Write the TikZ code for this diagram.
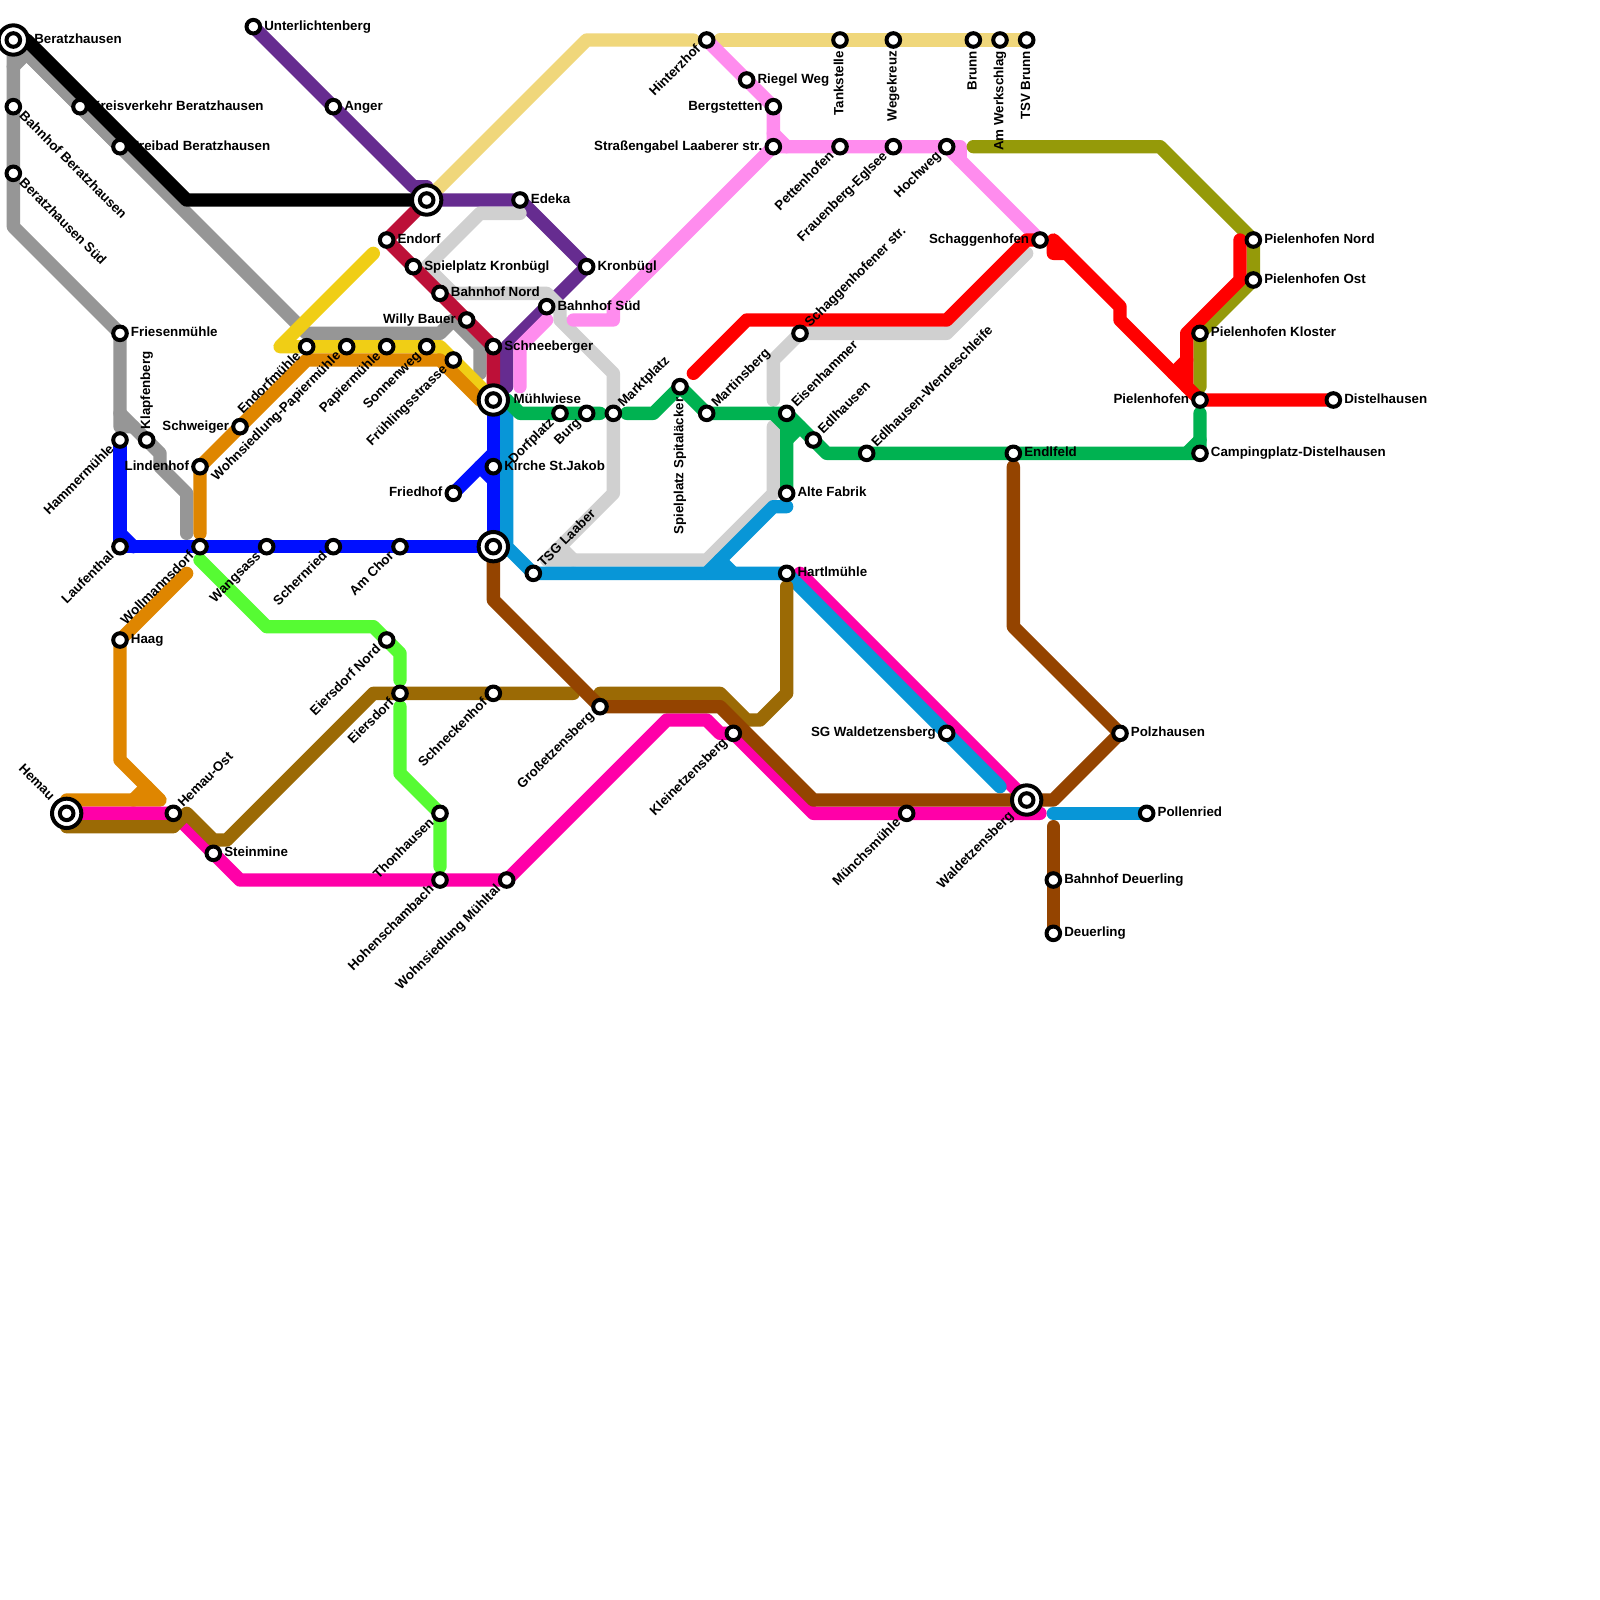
\documentclass[tikz,border=0pt]{standalone}
\usepackage{fontspec}
\setmainfont{Liberation Sans}
\definecolor{cgray}{HTML}{969696}
\definecolor{cpurple}{HTML}{662C90}
\definecolor{ccrim}{HTML}{BD1038}
\definecolor{cgold}{HTML}{F0CE15}
\definecolor{corange}{HTML}{DF8600}
\definecolor{cpale}{HTML}{F0D77B}
\definecolor{clight}{HTML}{D0D0D0}
\definecolor{cpink}{HTML}{FF8CEE}
\definecolor{cmag}{HTML}{FF00A8}
\definecolor{csky}{HTML}{0896D7}
\definecolor{cblue}{HTML}{000FFF}
\definecolor{cgreen}{HTML}{00B251}
\definecolor{clime}{HTML}{56FB33}
\definecolor{ctan}{HTML}{9B6A05}
\definecolor{cbrown}{HTML}{944400}
\definecolor{colive}{HTML}{959A09}
\definecolor{cred}{HTML}{FF0000}
\tikzset{
  metro/.style={line width=10pt,line cap=round,line join=round},
  stop/.style={circle,draw=black,fill=white,line width=3pt,minimum size=10.2pt,inner sep=0pt,outer sep=0pt},
  hubring/.style={circle,draw=black,fill=white,line width=3pt,minimum size=22pt,inner sep=0pt,outer sep=0pt},
  lbl/.style={inner sep=0pt,text height=7.5pt,text depth=2.5pt,font=\fontsize{10}{12}\selectfont\bfseries}
}
\newcommand{\stn}[3]{\coordinate (#1) at (#2,#3);}
\newcommand{\dotat}[1]{\node[stop] (#1-d) at (#1) {};}
\newcommand{\hubat}[1]{\node[hubring] (#1-h) at (#1) {}; \node[stop] (#1-d) at (#1) {};}
\newcommand{\lsta}[4]{\path (#1) ++(#2:#3pt) node[lbl,rotate=#2,anchor=west] (#1-l) {#4};}
\newcommand{\lend}[4]{\path (#1) ++(#2:-#3pt) node[lbl,rotate=#2,anchor=east] (#1-l) {#4};}
\begin{document}
\begin{tikzpicture}[x=10pt,y=-10pt]
\useasboundingbox (0,0) rectangle (120,120);
\fill[white] (0,0) rectangle (120,120);
\stn{bera}{1}{3}\stn{bbera}{1}{8}\stn{bsued}{1}{13}\stn{krei}{6}{8}\stn{frei}{9}{11}
\stn{unte}{19}{2}\stn{ange}{25}{8}\stn{fries}{9}{25}\stn{klap}{11}{33}\stn{hamm}{9}{33}
\stn{lauf}{9}{41}\stn{lind}{15}{35}\stn{woll}{15}{41}\stn{wang}{20}{41}\stn{sche}{25}{41}
\stn{amch}{30}{41}\stn{hubs}{37}{41}\stn{tsg}{40}{43}\stn{haag}{9}{48}\stn{hema}{5}{61}
\stn{hemo}{13}{61}\stn{stei}{16}{64}\stn{schw}{18}{32}\stn{endm}{23}{26}\stn{wopa}{26}{26}
\stn{papi}{29}{26}\stn{sonn}{32}{26}\stn{frue}{34}{27}\stn{mueh}{37}{30}\stn{schn}{37}{26}
\stn{will}{35}{24}\stn{bnor}{33}{22}\stn{spie}{31}{20}\stn{endo}{29}{18}\stn{hubn}{32}{15}
\stn{edek}{39}{15}\stn{kron}{44}{20}\stn{bsud}{41}{23}\stn{kirc}{37}{35}\stn{frie}{34}{37}
\stn{dorf}{42}{31}\stn{burg}{44}{31}\stn{mark}{46}{31}\stn{spit}{51}{29}\stn{mart}{53}{31}
\stn{eise}{59}{31}\stn{edlh}{61}{33}\stn{edlw}{65}{34}\stn{endl}{76}{34}\stn{camp}{90}{34}
\stn{piel}{90}{30}\stn{dist}{100}{30}\stn{pklo}{90}{25}\stn{post}{94}{21}\stn{pnor}{94}{18}
\stn{schg}{78}{18}\stn{schs}{60}{25}\stn{alte}{59}{37}\stn{hart}{59}{43}\stn{hint}{53}{3}
\stn{rieg}{56}{6}\stn{berg}{58}{8}\stn{stra}{58}{11}\stn{tank}{63}{3}\stn{pett}{63}{11}
\stn{wege}{67}{3}\stn{frau}{67}{11}\stn{hoch}{71}{11}\stn{brun}{73}{3}\stn{werk}{75}{3}
\stn{tsvb}{77}{3}\stn{eino}{29}{48}\stn{eier}{30}{52}\stn{schk}{37}{52}\stn{gros}{45}{53}
\stn{klei}{55}{55}\stn{sgwa}{71}{55}\stn{polz}{84}{55}\stn{wald}{77}{60}\stn{muen}{68}{61}
\stn{poll}{86}{61}\stn{bdeu}{79}{66}\stn{deue}{79}{70}\stn{thon}{33}{61}\stn{hohe}{33}{66}
\stn{womu}{38}{66}
% pale yellow
\draw[metro,cpale] (hubn) -- (44,3) -- (52,3);
\draw[metro,cpale] (54,3) -- (tsvb);
% grey
\draw[metro,cgray] (bera) -- (bsued) -- (1,17) -- (fries) -- (9,32) -- (10,32);
\draw[metro,cgray] (9,31) -- (12,34) -- (12,35) -- (14,37) -- (14,40);
\draw[metro,cgray] (1,5) -- (2,4) -- (23,25) -- (33,25) -- (34,24) -- (36,26) -- (36,28);
\draw[metro,cgray] (bera) -- (krei) -- (frei);
% purple
\draw[metro,cpurple] (unte) -- (ange) -- (31,14) -- (32,14) -- (hubn) -- (edek) -- (kron) -- (bsud) -- (38,26) -- (38,29);
% light grey
\draw[metro,clight] (39,16) -- (36,16) -- (32,20) -- (34,22) -- (41,22) -- (42,23) -- (42,24) -- (46,28) -- (46,37) -- (41,42) -- (53,42) -- (58,37) -- (58,32);
\draw[metro,clight] (42,41) -- (43,42);
\draw[metro,clight] (58,30) -- (58,27) -- (schs) -- (71,25) -- (77,19);
% pink
\draw[metro,cpink] (hint) -- (rieg) -- (berg) -- (stra) -- (hoch) -- (schg);
\draw[metro,cpink] (58,10) -- (59,11);
\draw[metro,cpink] (hoch) -- (72,11) -- (72,12);
\draw[metro,cpink] (stra) -- (46,23) -- (46,24) -- (43,24);
\draw[metro,cpink] (39,29) -- (39,26) -- (41,24);
% crimson
\draw[metro,ccrim] (hubn) -- (endo) -- (spie) -- (bnor) -- (will) -- (schn) -- (mueh);
% gold
\draw[metro,cgold] (28,19) -- (21,26) -- (endm) -- (sonn) -- (33,26) -- (mueh);
% orange
\draw[metro,corange] (15,40) -- (lind) -- (23,27) -- (33,27) -- (36,30) -- (mueh);
\draw[metro,corange] (hema) -- (5,60) -- (12,60) -- (9,57) -- (haag) -- (14,43);
\draw[metro,corange] (11,59) -- (10,60);
% black
\draw[metro,black] (bera) -- (2,3) -- (14,15) -- (hubn);
% magenta
\draw[metro,cmag] (hema) -- (hemo) -- (18,66) -- (womu) -- (50,54) -- (53,54) -- (54,55) -- (klei) -- (61,61) -- (muen) -- (78,61);
\draw[metro,cmag] (60,43) -- (wald);
% sky
\draw[metro,csky] (38,30) -- (38,41) -- (tsg) -- (hart) -- (75,59);
\draw[metro,csky] (59,38) -- (58,38) -- (53,43);
\draw[metro,csky] (54,42) -- (55,43);
\draw[metro,csky] (79,61) -- (poll);
% blue
\draw[metro,cblue] (hamm) -- (lauf) -- (hubs);
\draw[metro,cblue] (9,40) -- (10,41);
\draw[metro,cblue] (mueh) -- (hubs);
\draw[metro,cblue] (frie) -- (37,34);
\draw[metro,cblue] (36,35) -- (37,36);
% green
\draw[metro,cgreen] (38,30) -- (39,31) -- (45,31);
\draw[metro,cgreen] (47,31) -- (49,31) -- (spit) -- (mart) -- (eise) -- (62,34) -- (camp) -- (90,31);
\draw[metro,cgreen] (89,34) -- (90,33);
\draw[metro,cgreen] (58,31) -- (59,32) -- (alte);
\draw[metro,cgreen] (59,33) -- (60,32);
% lime
\draw[metro,clime] (15,42) -- (20,47) -- (28,47) -- (30,49) -- (30,51);
\draw[metro,clime] (30,53) -- (30,58) -- (thon) -- (33,65);
% olive
\draw[metro,colive] (73,11) -- (87,11) -- (pnor) -- (post) -- (pklo) -- (90,29);
% red
\draw[metro,cred] (52,28) -- (56,24) -- (71,24) -- (77,18) -- (schg);
\draw[metro,cred] (80,19) -- (79,19) -- (79,18) -- (84,23) -- (84,24) -- (piel) -- (dist);
\draw[metro,cred] (93,18) -- (93,21) -- (89,25) -- (89,29);
\draw[metro,cred] (88,28) -- (89,27);
% tan
\draw[metro,ctan] (hema) -- (5,62) -- (13,62) -- (14,61) -- (16,63) -- (17,63) -- (28,52) -- (43,52);
\draw[metro,ctan] (45,52) -- (54,52) -- (56,54) -- (57,54) -- (59,52) -- (59,44);
% brown
\draw[metro,cbrown] (hubs) -- (37,45) -- (gros) -- (54,53) -- (61,60) -- (79,60) -- (polz) -- (76,47) -- (76,35);
\draw[metro,cbrown] (79,62) -- (deue);
% stops
\foreach \s in {bbera,bsued,krei,frei,unte,ange,fries,klap,hamm,lauf,lind,woll,wang,sche,amch,tsg,haag,hemo,stei,schw,endm,wopa,papi,sonn,frue,schn,will,bnor,spie,endo,edek,kron,bsud,kirc,frie,dorf,burg,mark,spit,mart,eise,edlh,edlw,endl,camp,piel,dist,pklo,post,pnor,schg,schs,alte,hart,hint,rieg,berg,stra,tank,pett,wege,frau,hoch,brun,werk,tsvb,eino,eier,schk,gros,klei,sgwa,polz,muen,poll,bdeu,deue,thon,hohe,womu}{\dotat{\s}}
\foreach \s in {bera,hubn,mueh,hubs,hema,wald}{\hubat{\s}}
% labels right
\lsta{bera}{0}{15.5}{Beratzhausen}
\lsta{krei}{0}{8}{Kreisverkehr Beratzhausen}
\lsta{frei}{0}{8}{Freibad Beratzhausen}
\lsta{unte}{0}{8}{Unterlichtenberg}
\lsta{ange}{0}{8}{Anger}
\lsta{fries}{0}{8}{Friesenmühle}
\lsta{endo}{0}{8}{Endorf}
\lsta{spie}{0}{8}{Spielplatz Kronbügl}
\lsta{bnor}{0}{8}{Bahnhof Nord}
\lsta{edek}{0}{8}{Edeka}
\lsta{kron}{0}{8}{Kronbügl}
\lsta{bsud}{0}{8}{Bahnhof Süd}
\lsta{schn}{0}{8}{Schneeberger}
\lsta{mueh}{0}{15}{Mühlwiese}
\lsta{kirc}{0}{8}{Kirche St.Jakob}
\lsta{alte}{0}{8}{Alte Fabrik}
\lsta{hart}{0}{8}{Hartlmühle}
\lsta{rieg}{0}{8}{Riegel Weg}
\lsta{pnor}{0}{8}{Pielenhofen Nord}
\lsta{post}{0}{8}{Pielenhofen Ost}
\lsta{pklo}{0}{8}{Pielenhofen Kloster}
\lsta{dist}{0}{8}{Distelhausen}
\lsta{camp}{0}{8}{Campingplatz-Distelhausen}
\lsta{endl}{0}{8}{Endlfeld}
\lsta{polz}{0}{8}{Polzhausen}
\lsta{poll}{0}{8}{Pollenried}
\lsta{bdeu}{0}{8}{Bahnhof Deuerling}
\lsta{deue}{0}{8}{Deuerling}
\lsta{haag}{0}{8}{Haag}
\lsta{stei}{0}{8}{Steinmine}
% labels left
\lend{will}{0}{8}{Willy Bauer}
\lend{schw}{0}{8}{Schweiger}
\lend{lind}{0}{8}{Lindenhof}
\lend{frie}{0}{8}{Friedhof}
\lend{berg}{0}{8}{Bergstetten}
\lend{stra}{0}{8}{Straßengabel Laaberer str.}
\lend{schg}{0}{8}{Schaggenhofen}
\lend{piel}{0}{8}{Pielenhofen}
\lend{sgwa}{0}{8}{SG Waldetzensberg}
% labels down-right
\lsta{bbera}{-45}{8}{Bahnhof Beratzhausen}
\lsta{bsued}{-45}{8}{Beratzhausen Süd}
% labels up-right
\lsta{mark}{45}{8}{Marktplatz}
\lsta{mart}{45}{8}{Martinsberg}
\lsta{eise}{45}{8}{Eisenhammer}
\lsta{edlh}{45}{8}{Edlhausen}
\lsta{edlw}{45}{8}{Edlhausen-Wendeschleife}
\lsta{schs}{45}{8}{Schaggenhofener str.}
\lsta{tsg}{45}{8}{TSG Laaber}
\lsta{hemo}{45}{8}{Hemau-Ost}
% labels lower-left
\lend{hamm}{45}{8}{Hammermühle}
\lend{lauf}{45}{8}{Laufenthal}
\lend{woll}{45}{8}{Wollmannsdorf}
\lend{wang}{45}{8}{Wangsass}
\lend{sche}{45}{8}{Schernried}
\lend{amch}{45}{8}{Am Chor}
\lend{endm}{45}{8}{Endorfmühle}
\lend{wopa}{45}{8}{Wohnsiedlung-Papiermühle}
\lend{papi}{45}{8}{Papiermühle}
\lend{sonn}{45}{8}{Sonnenweg}
\lend{frue}{45}{8}{Frühlingsstrasse}
\lend{eino}{45}{8}{Eiersdorf Nord}
\lend{eier}{45}{8}{Eiersdorf}
\lend{schk}{45}{8}{Schneckenhof}
\lend{gros}{45}{8}{Großetzensberg}
\lend{klei}{45}{8}{Kleinetzensberg}
\lend{muen}{45}{8}{Münchsmühle}
\lend{wald}{45}{15.5}{Waldetzensberg}
\lend{thon}{45}{8}{Thonhausen}
\lend{hohe}{45}{8}{Hohenschambach}
\lend{womu}{45}{8}{Wohnsiedlung Mühltal}
\lend{dorf}{45}{8}{Dorfplatz}
\lend{burg}{45}{8}{Burg}
\lend{hint}{45}{8}{Hinterzhof}
\lend{pett}{45}{8}{Pettenhofen}
\lend{frau}{45}{8}{Frauenberg-Eglsee}
\lend{hoch}{45}{8}{Hochweg}
% vertical
\lsta{klap}{90}{8}{Klapfenberg}
\lend{tank}{90}{8}{Tankstelle}
\lend{wege}{90}{8}{Wegekreuz}
\lend{brun}{90}{8}{Brunn}
\lend{werk}{90}{8}{Am Werkschlag}
\lend{tsvb}{90}{8}{TSV Brunn}
\lend{spit}{90}{8}{Spielplatz Spitaläcker}
% Hemau
\lend{hema}{-45}{15.5}{Hemau}
\end{tikzpicture}
\end{document}
